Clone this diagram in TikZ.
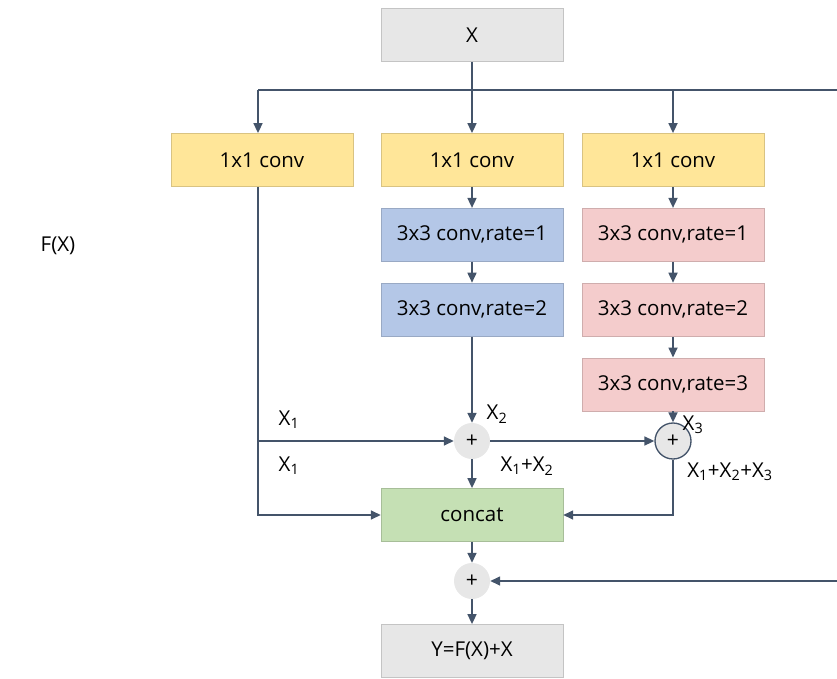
\documentclass[tikz,border=0pt]{standalone}
\usepackage{fontspec}
\setmainfont{Open Sans}
\usetikzlibrary{arrows.meta, positioning}
\definecolor{inkline}{HTML}{44546A}
\definecolor{fillgray}{HTML}{E7E7E7}
\definecolor{fillyellow}{HTML}{FFE699}
\definecolor{fillblue}{HTML}{B4C7E7}
\definecolor{fillpink}{HTML}{F4CCCC}
\definecolor{fillgreen}{HTML}{C5E0B4}
\newcommand{\idx}[1]{\textsubscript{#1}}

\begin{document}
\begin{tikzpicture}[
        x=0.3mm, y=-0.3mm,
        node distance=6.3mm,
        box/.style={rectangle, fill=#1, draw=#1!85!black, line width=0.4pt,
                    minimum width=54.6mm, minimum height=16mm, align=center,
                    font=\fontsize{17.5}{20}\selectfont, inner sep=2pt},
        plus/.style={circle, fill=fillgray, minimum size=10.8mm, inner sep=0pt,
                     font=\fontsize{18}{20}\selectfont},
        lbl/.style={font=\fontsize{17.5}{20}\selectfont, inner sep=0pt},
        arr/.style={-{Triangle[length=3mm, width=2.7mm]}, line width=0.5mm, inkline},
        wire/.style={line width=0.5mm, inkline},
    ]
    \useasboundingbox (0,0) rectangle (837,678);
    \node[box=fillgray] (x) at (472,35) {X};
    \node[box=fillyellow] (c1a) at (262,160) {1x1 conv};
    \node[box=fillyellow] (c1b) at (472,160) {1x1 conv};
    \node[box=fillyellow] (c1c) at (673,160) {1x1 conv};
    \node[box=fillblue, below=of c1b] (b1) {3x3 conv,rate=1};
    \node[box=fillblue, below=of b1] (b2) {3x3 conv,rate=2};
    \node[box=fillpink, below=of c1c] (r1) {3x3 conv,rate=1};
    \node[box=fillpink, below=of r1] (r2) {3x3 conv,rate=2};
    \node[box=fillpink, below=of r2] (r3) {3x3 conv,rate=3};
    \node[plus] (p1) at (472,441) {+};
    \node[plus, draw=inkline, line width=0.4mm] (p2) at (673,441) {+};
    \node[box=fillgreen] (cat) at (472,515) {concat};
    \node[plus] (p3) at (472,581) {+};
    \node[box=fillgray] (y) at (472,651) {Y=F(X)+X};
    \node[lbl] (fx) at (58,246) {F(X)};
    \node[lbl] (lx1a) at (289,420) {X\idx{1}};
    \node[lbl] (lx1b) at (289,466) {X\idx{1}};
    \node[lbl] (lx2) at (497,414) {X\idx{2}};
    \node[lbl] (lx12) at (527,466) {X\idx{1}+X\idx{2}};
    \node[lbl] (lx3) at (693,425) {X\idx{3}};
    \node[lbl] (lx123) at (730,472) {X\idx{1}+X\idx{2}+X\idx{3}};
    \coordinate (busL) at (258,90);
    \coordinate (busR) at (837,90);
    \coordinate (skipR) at (837,581);
    \draw[wire] (busL) -- (busR);
    \draw[arr] (x) -- (c1b);
    \draw[arr] (busL) -- (busL |- c1a.north);
    \draw[arr] (c1c.north |- busL) -- (c1c);
    \draw[arr] (c1b) -- (b1);
    \draw[arr] (b1) -- (b2);
    \draw[arr] (b2) -- (p1);
    \draw[arr] (c1c) -- (r1);
    \draw[arr] (r1) -- (r2);
    \draw[arr] (r2) -- (r3);
    \draw[arr] (r3) -- (p2);
    \draw[arr] (busL |- c1a.south) |- (cat);
    \draw[arr] (busL |- p1) -- (p1);
    \draw[arr] (p1) -- (p2);
    \draw[arr] (p1) -- (cat);
    \draw[arr] (p2) |- (cat);
    \draw[arr] (cat) -- (p3);
    \draw[arr] (skipR) -- (p3);
    \draw[arr] (p3) -- (y);
\end{tikzpicture}
\end{document}
